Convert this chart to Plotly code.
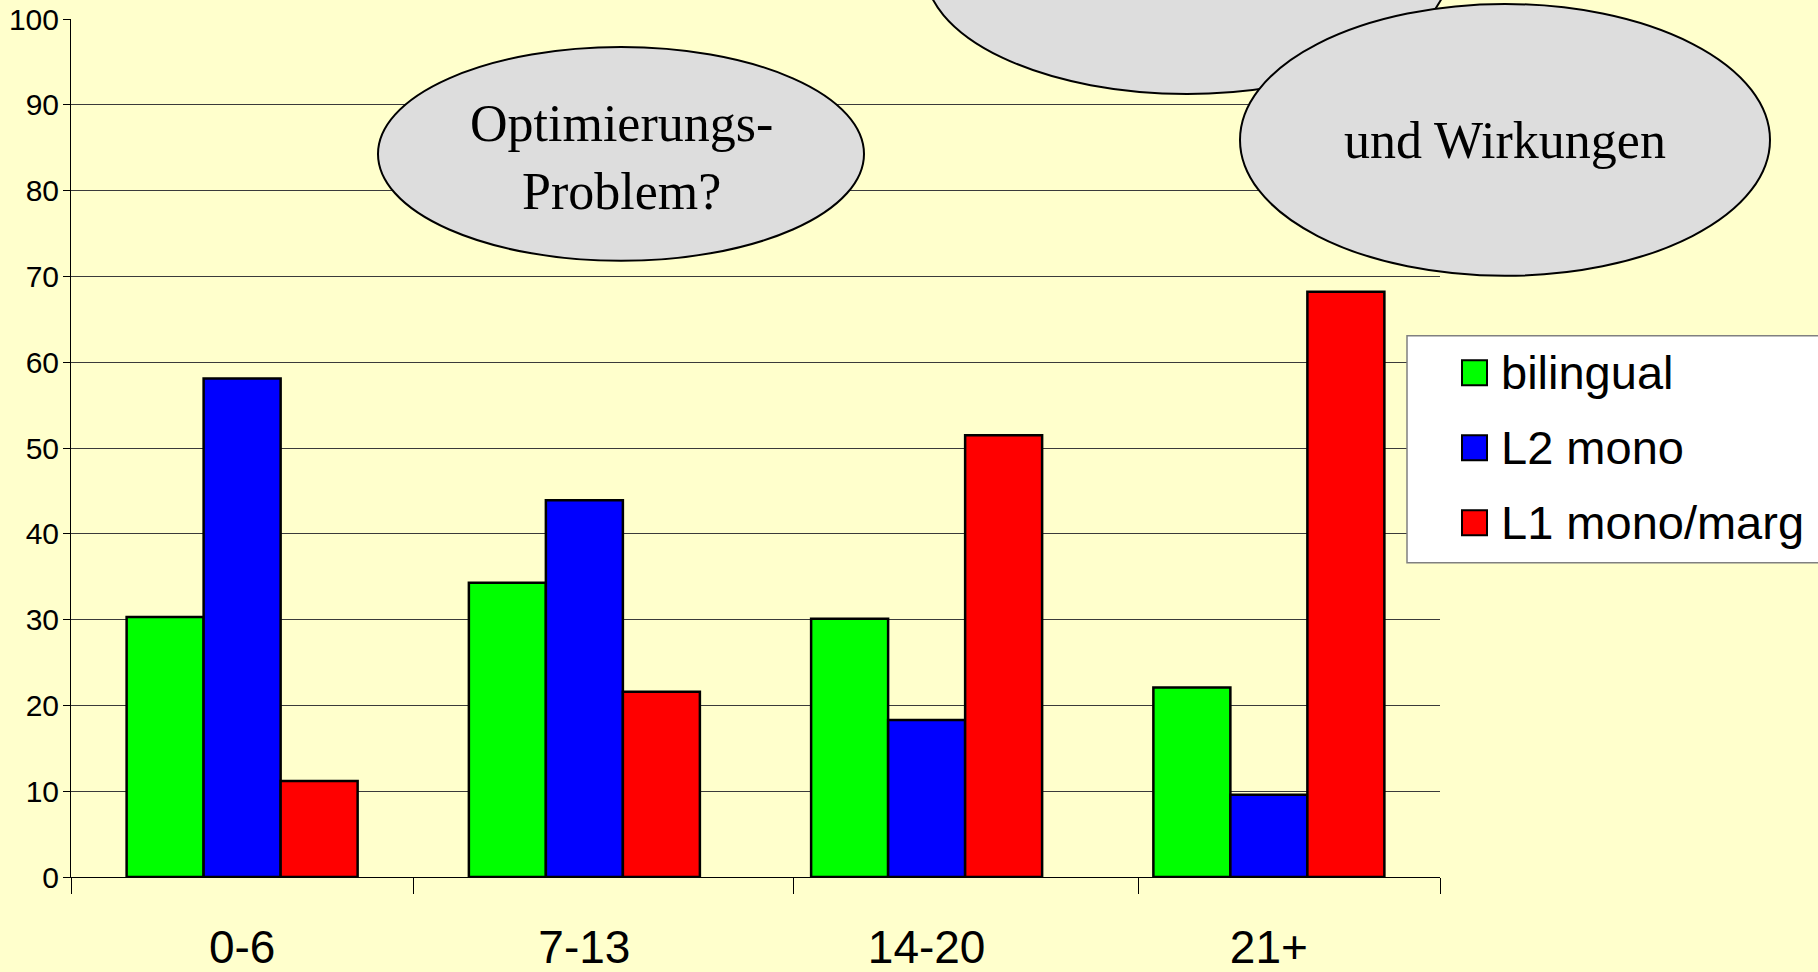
import plotly.graph_objects as go

# ---- data ----
categories = ["0-6", "7-13", "14-20", "21+"]
series_names = ["bilingual", "L2 mono", "L1 mono/marg"]
bilingual = [30.3, 34.3, 30.1, 22.1]
l2_mono = [58.1, 43.9, 18.3, 9.6]
l1_mono_marg = [11.2, 21.6, 51.5, 68.2]
y_ticks = list(range(0, 101, 10))
group_boundaries = [-0.5, 0.5, 1.61, 2.62, 3.5]
bubble_texts = ["", "Optimierungs-<br>Problem?", "und Wirkungen"]

series_values = [bilingual, l2_mono, l1_mono_marg]
colors = ["#00FF00", "#0000FF", "#FF0000"]

W, H = 1818, 972
L, R, T, B = 71, 1440, 19, 877.5
BG = "#FFFFCC"


def px(xp):
    return (xp - L) / (R - L)


def py(yp):
    return (B - yp) / (B - T)


fig = go.Figure()
for name, vals, col in zip(series_names, series_values, colors):
    fig.add_trace(go.Bar(
        x=categories, y=vals, name=name,
        marker=dict(color=col, line=dict(color="black", width=2.5)),
        showlegend=False,
    ))
# empty trace so the boundary-tick axis is drawn
fig.add_trace(go.Scatter(x=[None], y=[None], xaxis="x2", mode="markers",
                         showlegend=False, hoverinfo="skip"))

shapes = []
annotations = []

# speech bubbles (ellipses)
bubbles = [
    (925, -156, 1449, 94),
    (378, 47, 864, 261),
    (1240, 4, 1770, 276),
]
bubble_text_y = [0, 158, 141]
for (x0, y0, x1, y1), txt, ty in zip(bubbles, bubble_texts, bubble_text_y):
    shapes.append(dict(type="circle", xref="paper", yref="paper",
                       x0=px(x0), x1=px(x1), y0=py(y1), y1=py(y0),
                       fillcolor="#DDDDDD", line=dict(color="black", width=2),
                       layer="above"))
    if txt:
        annotations.append(dict(xref="paper", yref="paper",
                                x=px((x0 + x1) / 2), y=py(ty),
                                text=txt, showarrow=False,
                                xanchor="center", yanchor="middle",
                                font=dict(family="Liberation Serif, Times New Roman, serif",
                                          size=52, color="black")))

# legend box
shapes.append(dict(type="rect", xref="paper", yref="paper",
                   x0=px(1407), x1=px(1830), y0=py(563), y1=py(336),
                   fillcolor="white", line=dict(color="#808080", width=1.5),
                   layer="above"))
leg_y = [373, 448, 523]
for name, col, yc in zip(series_names, colors, leg_y):
    shapes.append(dict(type="rect", xref="paper", yref="paper",
                       x0=px(1462), x1=px(1487), y0=py(yc + 12.5), y1=py(yc - 12.5),
                       fillcolor=col, line=dict(color="black", width=2),
                       layer="above"))
    annotations.append(dict(xref="paper", yref="paper", x=px(1499), y=py(yc),
                            text=name, showarrow=False,
                            xanchor="left", yanchor="middle",
                            font=dict(family="Liberation Sans, Arial, sans-serif",
                                      size=47, color="black")))

fig.update_layout(
    width=W, height=H,
    margin=dict(l=L, r=W - R, t=T, b=H - B, pad=0, autoexpand=False),
    paper_bgcolor=BG, plot_bgcolor=BG,
    barmode="group", bargap=0.325, bargroupgap=0,
    showlegend=False,
    shapes=shapes, annotations=annotations,
    font=dict(family="Liberation Sans, Arial, sans-serif", color="black"),
    xaxis=dict(type="category", range=[-0.5, 3.5], ticks="",
               showline=True, linecolor="black", linewidth=1,
               tickfont=dict(size=46, color="black"), automargin=False,
               ticklabelstandoff=30, showgrid=False, fixedrange=True),
    xaxis2=dict(overlaying="x", range=[-0.5, 3.5], side="bottom",
                tickvals=group_boundaries, ticks="outside", ticklen=16,
                tickcolor="black", tickwidth=1, showticklabels=False,
                showgrid=False, zeroline=False, showline=False, fixedrange=True,
                automargin=False),
    yaxis=dict(range=[0, 100], tickvals=y_ticks, ticks="outside", ticklen=7,
               tickcolor="black", showline=True, linecolor="black", linewidth=1,
               showgrid=True, gridcolor="#3a3a3a", gridwidth=1, automargin=False,
               zeroline=False, tickfont=dict(size=30, color="black"),
               ticklabelstandoff=-2, fixedrange=True),
)

fig.write_html("out.html", config={"displayModeBar": False},
               post_script="document.body.style.margin='0';document.body.style.overflow='hidden';")
